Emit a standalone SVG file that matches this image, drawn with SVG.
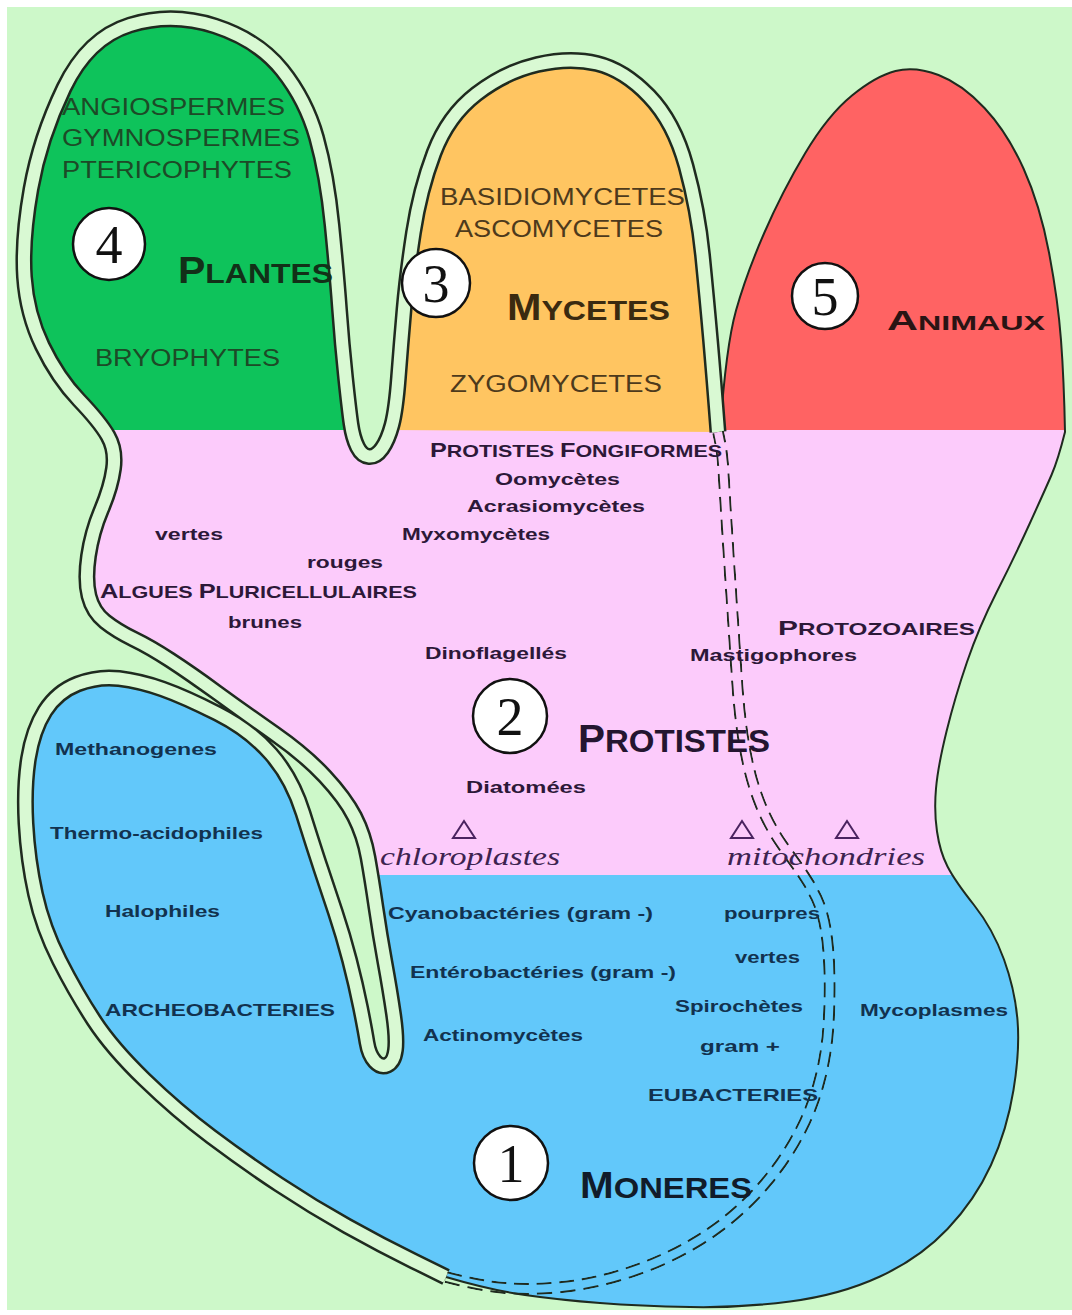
<svg xmlns="http://www.w3.org/2000/svg" width="1072" height="1315" viewBox="0 0 1072 1315">
<style>
.t{font-family:"Liberation Sans",Arial,sans-serif}
.b{font-weight:bold}
.pl{fill:#1d4a27;font-size:23px}
.my{fill:#4d3a1c;font-size:23px}
.an{fill:#2a1414}
.pr{fill:#2c1838;font-size:17px}
.mo{fill:#12324f;font-size:17px}
.big{font-weight:bold}
.num{font-family:"Liberation Serif","Times New Roman",serif;font-size:54px;fill:#111;text-anchor:middle}
.it{font-family:"Liberation Serif","Times New Roman",serif;font-style:italic;fill:#3d2350;font-size:25px}
.circ{fill:#fff;stroke:#111;stroke-width:2.5}
.tri{fill:none;stroke:#4a2360;stroke-width:2}
</style>
<defs>
<path id="tubeP" d="M718,432 Q714,380 710.5,340 Q707,300 702.5,255 Q698,210 686,166 Q674,122 649,96 Q624,70 597,63.5 Q570,57 537.5,64.5 Q505,72 476.5,94 Q448,116 434,153 Q420,190 413.5,232.5 Q407,275 404,309.5 Q401,344 398.5,377 Q396,410 392,425 Q388,440 382,448.5 Q376,457 369,456.5 Q362,456 357.5,447 Q353,438 351,424 Q349,410 345.5,377 Q342,344 339.5,309.5 Q337,275 332,225 Q327,175 316.5,137.5 Q306,100 282,70 Q258,40 215,26 Q172,12 130,25 Q88,38 64,88 Q40,138 31,189 Q22,240 24.5,277 Q27,314 42.5,346 Q58,378 79,400 Q100,422 108,436 Q116,450 113.5,468.5 Q111,487 101.5,509.5 Q92,532 88.5,556 Q85,580 89,596 Q93,612 105,621.5 Q117,631 133.5,639 Q150,647 170,660 Q190,673 217.5,693 Q245,713 275,734 Q305,755 325,776.5 Q345,798 354.5,816.5 Q364,835 368,857.5 Q372,880 376,907.5 Q380,935 385,962.5 Q390,990 393.5,1014 Q397,1038 395.5,1050 Q394,1062 387.5,1065 Q381,1068 375,1061.5 Q369,1055 367,1042.5 Q365,1030 360.5,1007.5 Q356,985 349.5,960 Q343,935 335.5,912.5 Q328,890 321,869 Q314,848 303,813 Q292,778 271,754 Q250,730 217.5,713.5 Q185,697 162.5,689 Q140,681 119,678.5 Q98,676 77.5,684 Q57,692 45,711 Q33,730 28.5,758.5 Q24,787 26,823.5 Q28,860 35.5,894 Q43,928 59.5,960.5 Q76,993 94,1020.5 Q112,1048 144.5,1079.5 Q177,1111 211,1136.5 Q245,1162 279,1184.5 Q313,1207 347,1226 Q381,1245 413.5,1261 L446,1277"/>
<path id="dashP" d="M446,1277 Q480,1286 505,1288 Q530,1290 557.5,1287.5 Q585,1285 612.5,1277.5 Q640,1270 665,1258.5 Q690,1247 711,1232.5 Q732,1218 749.5,1200.5 Q767,1183 781,1163 Q795,1143 805,1121.5 Q815,1100 821,1075 Q827,1050 828.5,1025 Q830,1000 829.5,975 Q829,950 826,931 Q823,912 816.5,898 Q810,884 801.5,872 Q793,860 783,846 Q773,832 765,815 Q757,798 751.5,778 Q746,758 742.5,734 Q739,710 737,680 Q735,650 733,620 Q731,590 729,560 Q727,530 725.5,505 Q724,480 723,464 Q722,448 718,432"/>
<mask id="dmask" maskUnits="userSpaceOnUse" x="0" y="0" width="1072" height="1315">
<use href="#dashP" fill="none" stroke="#fff" stroke-width="12"/>
<use href="#dashP" fill="none" stroke="#000" stroke-width="8"/>
</mask>
</defs>
<rect x="0" y="0" width="1072" height="1315" fill="#fff"/>
<rect x="7" y="7" width="1065" height="1303" fill="#CDF8C9"/>
<g id="regions">
<path id="fill-monera" fill="#62C8FA" d="M370,875 L947.5,866.5 Q955,881 974,905 Q993,929 1004,959.5 Q1015,990 1017.5,1020 Q1020,1050 1013.5,1090 Q1007,1130 991,1165 Q975,1200 947.5,1229 Q920,1258 880,1276.5 Q840,1295 790,1301.5 Q740,1308 690,1307 Q640,1306 600,1303 Q560,1300 525,1295 Q490,1290 446,1277 L413.5,1261 Q381,1245 347,1226 Q313,1207 279,1184.5 Q245,1162 211,1136.5 Q177,1111 144.5,1079.5 Q112,1048 94,1020.5 Q76,993 59.5,960.5 Q43,928 35.5,894 Q28,860 26,823.5 Q24,787 28.5,758.5 Q33,730 45,711 Q57,692 77.5,684 Q98,676 119,678.5 Q140,681 162.5,689 Q185,697 217.5,713.5 Q250,730 271,754 Q292,778 303,813 Q314,848 321,869 Q328,890 335.5,912.5 Q343,935 349.5,960 Q356,985 360.5,1007.5 Q365,1030 367,1042.5 Q369,1055 375,1061.5 Q381,1068 387.5,1065 Q394,1062 395.5,1050 Q397,1038 393.5,1014 Q390,990 385,962.5 Q380,935 376,907.5 Q372,880 368,857.5 Z"/>
<path id="fill-animaux" fill="#FF6363" d="M720,432 Q726,346 736,310.5 Q746,275 764,233.5 Q782,192 805,153.5 Q828,115 852,95.5 Q876,76 895.5,71 Q915,66 938.5,75 Q962,84 984.5,108 Q1007,132 1023.5,168.5 Q1040,205 1049,252.5 Q1058,300 1061,340 Q1064,380 1065,432 Z"/>
<path id="fill-protistes" fill="#FCCBFB" d="M108,430 L351,430 L351,424 Q353,438 357.5,447 Q362,456 369,456.5 Q376,457 382,448.5 Q388,440 392,425 L392,430 L1065,430 Q1058,460 1051.5,475 Q1045,490 1029.5,524 Q1014,558 996.5,592.5 Q979,627 967,662 Q955,697 946.5,731.5 Q938,766 936,788.5 Q934,811 937,831.5 Q940,852 947.5,866.5 L952,875 L370,875 L368,857.5 Q364,835 354.5,816.5 Q345,798 325,776.5 Q305,755 275,734 Q245,713 217.5,693 Q190,673 170,660 Q150,647 133.5,639 Q117,631 105,621.5 Q93,612 89,596 Q85,580 88.5,556 Q92,532 101.5,509.5 Q111,487 113.5,468.5 Q116,450 108,436 Z"/>
<path id="fill-plantes" fill="#0EC35B" d="M108,436 Q100,422 79,400 Q58,378 42.5,346 Q27,314 24.5,277 Q22,240 31,189 Q40,138 64,88 Q88,38 130,25 Q172,12 215,26 Q258,40 282,70 Q306,100 316.5,137.5 Q327,175 332,225 Q337,275 339.5,309.5 Q342,344 345.5,377 Q349,410 351,424 L352,430 L106,430 Z"/>
<path id="fill-mycetes" fill="#FFC561" d="M392,430 L392,425 Q396,410 398.5,377 Q401,344 404,309.5 Q407,275 413.5,232.5 Q420,190 434,153 Q448,116 476.5,94 Q505,72 537.5,64.5 Q570,57 597,63.5 Q624,70 649,96 Q674,122 686,166 Q698,210 702.5,255 Q707,300 710.5,340 Q714,380 718,432 Z"/>
</g>
<g id="connectors">
<path id="outline-right" fill="none" stroke="#1f2b1f" stroke-width="2" d="M720,432 Q726,346 736,310.5 Q746,275 764,233.5 Q782,192 805,153.5 Q828,115 852,95.5 Q876,76 895.5,71 Q915,66 938.5,75 Q962,84 984.5,108 Q1007,132 1023.5,168.5 Q1040,205 1049,252.5 Q1058,300 1061,340 Q1064,380 1065,432 Q1058,460 1051.5,475 Q1045,490 1029.5,524 Q1014,558 996.5,592.5 Q979,627 967,662 Q955,697 946.5,731.5 Q938,766 936,788.5 Q934,811 937,831.5 Q940,852 947.5,866.5 Q955,881 974,905 Q993,929 1004,959.5 Q1015,990 1017.5,1020 Q1020,1050 1013.5,1090 Q1007,1130 991,1165 Q975,1200 947.5,1229 Q920,1258 880,1276.5 Q840,1295 790,1301.5 Q740,1308 690,1307 Q640,1306 600,1303 Q560,1300 525,1295 Q490,1290 446,1277"/>
<use href="#tubeP" fill="none" stroke="#1f2b1f" stroke-width="17" stroke-linejoin="round"/>
<use href="#tubeP" fill="none" stroke="#D9F9D3" stroke-width="12" stroke-linejoin="round"/>
<use href="#dashP" fill="none" stroke="#1f2b1f" stroke-width="12" stroke-dasharray="15 8" mask="url(#dmask)"/>
</g>
<g id="plantes">
<text class="t pl" x="62" y="115" textLength="223" lengthAdjust="spacingAndGlyphs">ANGIOSPERMES</text>
<text class="t pl" x="62" y="146" textLength="238" lengthAdjust="spacingAndGlyphs">GYMNOSPERMES</text>
<text class="t pl" x="62" y="178" textLength="230" lengthAdjust="spacingAndGlyphs">PTERICOPHYTES</text>
<circle class="circ" cx="109" cy="244" r="36"/>
<text class="num" x="109" y="263">4</text>
<text class="t big" fill="#123018" x="178" y="283" textLength="155" lengthAdjust="spacingAndGlyphs"><tspan font-size="36">P</tspan><tspan font-size="28">LANTES</tspan></text>
<text class="t pl" x="95" y="366" textLength="185" lengthAdjust="spacingAndGlyphs">BRYOPHYTES</text>
</g>
<g id="mycetes">
<text class="t my" x="440" y="205" textLength="245" lengthAdjust="spacingAndGlyphs">BASIDIOMYCETES</text>
<text class="t my" x="455" y="237" textLength="208" lengthAdjust="spacingAndGlyphs">ASCOMYCETES</text>
<circle class="circ" cx="436" cy="283" r="34"/>
<text class="num" x="436" y="302">3</text>
<text class="t big" fill="#3a2a10" x="507" y="320" textLength="163" lengthAdjust="spacingAndGlyphs"><tspan font-size="36">M</tspan><tspan font-size="28">YCETES</tspan></text>
<text class="t my" x="450" y="392" textLength="212" lengthAdjust="spacingAndGlyphs">ZYGOMYCETES</text>
</g>
<g id="animaux">
<circle class="circ" cx="825" cy="296" r="33"/>
<text class="num" x="825" y="315">5</text>
<text class="t big an" x="887" y="330" textLength="158" lengthAdjust="spacingAndGlyphs"><tspan font-size="28">A</tspan><tspan font-size="21">NIMAUX</tspan></text>
</g>
<g id="protistes">
<text class="t b pr" x="430" y="457" textLength="292" lengthAdjust="spacingAndGlyphs"><tspan font-size="20">P</tspan>ROTISTES <tspan font-size="20">F</tspan>ONGIFORMES</text>
<text class="t b pr" x="495" y="485" textLength="125" lengthAdjust="spacingAndGlyphs">Oomycètes</text>
<text class="t b pr" x="467" y="512" textLength="178" lengthAdjust="spacingAndGlyphs">Acrasiomycètes</text>
<text class="t b pr" x="402" y="540" textLength="148" lengthAdjust="spacingAndGlyphs">Myxomycètes</text>
<text class="t b pr" x="155" y="540" textLength="68" lengthAdjust="spacingAndGlyphs">vertes</text>
<text class="t b pr" x="307" y="568" textLength="76" lengthAdjust="spacingAndGlyphs">rouges</text>
<text class="t b pr" x="100" y="598" textLength="317" lengthAdjust="spacingAndGlyphs"><tspan font-size="20">A</tspan>LGUES <tspan font-size="20">P</tspan>LURICELLULAIRES</text>
<text class="t b pr" x="228" y="628" textLength="74" lengthAdjust="spacingAndGlyphs">brunes</text>
<text class="t b pr" x="425" y="659" textLength="142" lengthAdjust="spacingAndGlyphs">Dinoflagellés</text>
<text class="t b pr" x="778" y="635" textLength="197" lengthAdjust="spacingAndGlyphs"><tspan font-size="21">P</tspan>ROTOZOAIRES</text>
<text class="t b pr" x="690" y="661" textLength="167" lengthAdjust="spacingAndGlyphs">Mastigophores</text>
<circle class="circ" cx="510" cy="716" r="37"/>
<text class="num" x="510" y="735">2</text>
<text class="t big" fill="#241530" x="578" y="752" textLength="192" lengthAdjust="spacingAndGlyphs"><tspan font-size="38">P</tspan><tspan font-size="31">ROTISTES</tspan></text>
<text class="t b pr" x="466" y="793" textLength="120" lengthAdjust="spacingAndGlyphs">Diatomées</text>
<polygon class="tri" points="464,821 453,838 475,838"/>
<text class="it" x="380" y="865" textLength="180" lengthAdjust="spacingAndGlyphs">chloroplastes</text>
<polygon class="tri" points="742,821 731,838 753,838"/>
<polygon class="tri" points="847,821 836,838 858,838"/>
<text class="it" x="727" y="865" textLength="198" lengthAdjust="spacingAndGlyphs">mitochondries</text>
</g>
<g id="moneres">
<text class="t b mo" x="55" y="755" textLength="162" lengthAdjust="spacingAndGlyphs">Methanogenes</text>
<text class="t b mo" x="50" y="839" textLength="213" lengthAdjust="spacingAndGlyphs">Thermo-acidophiles</text>
<text class="t b mo" x="105" y="917" textLength="115" lengthAdjust="spacingAndGlyphs">Halophiles</text>
<text class="t b mo" x="105" y="1016" textLength="230" lengthAdjust="spacingAndGlyphs" font-size="19">ARCHEOBACTERIES</text>
<text class="t b mo" x="388" y="919" textLength="265" lengthAdjust="spacingAndGlyphs">Cyanobactéries (gram -)</text>
<text class="t b mo" x="410" y="978" textLength="266" lengthAdjust="spacingAndGlyphs">Entérobactéries (gram -)</text>
<text class="t b mo" x="423" y="1041" textLength="160" lengthAdjust="spacingAndGlyphs">Actinomycètes</text>
<text class="t b mo" x="724" y="919" textLength="96" lengthAdjust="spacingAndGlyphs">pourpres</text>
<text class="t b mo" x="735" y="963" textLength="65" lengthAdjust="spacingAndGlyphs">vertes</text>
<text class="t b mo" x="675" y="1012" textLength="128" lengthAdjust="spacingAndGlyphs">Spirochètes</text>
<text class="t b mo" x="700" y="1052" textLength="80" lengthAdjust="spacingAndGlyphs">gram +</text>
<text class="t b mo" x="648" y="1101" textLength="170" lengthAdjust="spacingAndGlyphs" font-size="19">EUBACTERIES</text>
<text class="t b mo" x="860" y="1016" textLength="148" lengthAdjust="spacingAndGlyphs">Mycoplasmes</text>
<circle class="circ" cx="511" cy="1163" r="37"/>
<text class="num" x="511" y="1182">1</text>
<text class="t big" fill="#111c2a" x="580" y="1198" textLength="172" lengthAdjust="spacingAndGlyphs"><tspan font-size="37">M</tspan><tspan font-size="30">ONERES</tspan></text>
</g>
</svg>
